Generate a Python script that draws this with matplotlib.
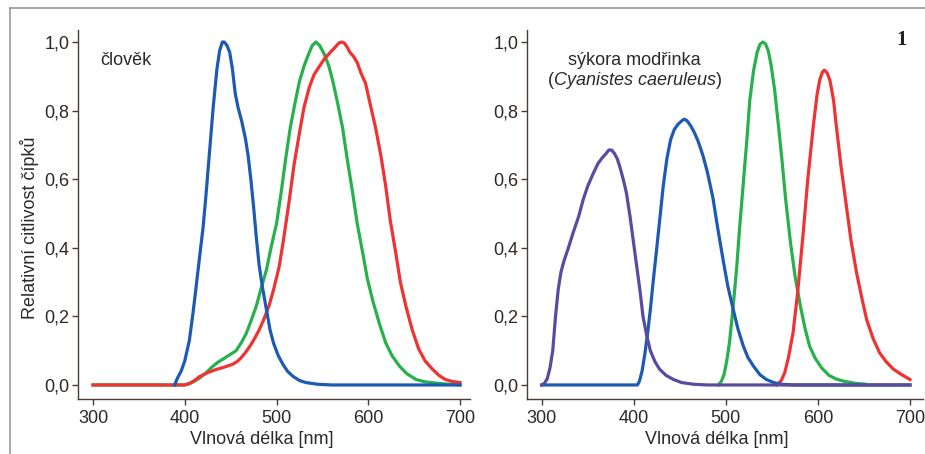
import matplotlib
matplotlib.use("Agg")
import matplotlib.pyplot as plt
from matplotlib.lines import Line2D

plt.rcParams['font.family'] = ['Liberation Sans', 'DejaVu Sans']

# cone sensitivity curves
# left panel - human (clovek)
human_blue_nm = [389, 392, 396, 400, 405, 409, 413, 416, 420, 423, 427, 431, 435, 438, 441, 443, 446, 449,
                 452, 455, 458, 462, 466, 469, 472, 475, 478, 481, 485, 489, 493, 497, 502, 507, 512, 518,
                 525, 532, 545, 560, 700]
human_blue = [0.0, 0.02, 0.04, 0.07, 0.13, 0.21, 0.30, 0.37, 0.46, 0.55, 0.68, 0.81, 0.92, 0.975, 1.0, 1.0, 0.99, 0.97,
              0.92, 0.85, 0.81, 0.77, 0.72, 0.67, 0.60, 0.52, 0.43, 0.35, 0.28, 0.22, 0.16, 0.12, 0.085, 0.06, 0.04, 0.025,
              0.013, 0.007, 0.002, 0.0, 0.0]

human_green_nm = [300, 400, 405, 410, 416, 423, 430, 436, 442, 449, 456, 462, 467, 472, 478, 483, 489, 494, 500,
                  505, 510, 515, 520, 525, 530, 535, 539, 543, 547, 552, 557, 561, 566, 572, 577, 583, 588, 594,
                  599, 605, 612, 619, 626, 634, 642, 652, 662, 675, 688, 700]
human_green = [0.0, 0.0, 0.004, 0.01, 0.02, 0.035, 0.053, 0.066, 0.076, 0.088, 0.10, 0.125, 0.15, 0.185, 0.23, 0.28, 0.335, 0.40, 0.47,
               0.56, 0.66, 0.75, 0.82, 0.885, 0.93, 0.965, 0.99, 1.0, 0.99, 0.965, 0.93, 0.89, 0.83, 0.75, 0.66, 0.56, 0.47, 0.385,
               0.31, 0.245, 0.18, 0.123, 0.085, 0.055, 0.033, 0.016, 0.009, 0.005, 0.002, 0.0]

human_red_nm = [300, 400, 405, 410, 416, 425, 434, 443, 452, 457, 461, 466, 471, 476, 481, 486, 492, 497, 503,
                508, 514, 519, 525, 530, 536, 541, 547, 552, 558, 564, 568, 571, 574, 577, 580, 584, 588, 592,
                597, 602, 608, 614, 619, 624, 630, 635, 641, 648, 655, 662, 670, 677, 684, 692, 700]
human_red = [0.0, 0.0, 0.004, 0.012, 0.024, 0.036, 0.045, 0.052, 0.06, 0.068, 0.078, 0.094, 0.113, 0.135, 0.16, 0.19, 0.232, 0.28, 0.346,
             0.43, 0.54, 0.64, 0.735, 0.81, 0.87, 0.905, 0.93, 0.95, 0.968, 0.985, 0.997, 1.0, 0.997, 0.985, 0.97, 0.958, 0.94, 0.91,
             0.88, 0.82, 0.75, 0.665, 0.58, 0.48, 0.385, 0.30, 0.23, 0.16, 0.105, 0.07, 0.046, 0.028, 0.016, 0.01, 0.007]

# right panel - blue tit (sykora modrinka)
tit_uv_nm = [300, 303, 306, 309, 312, 315, 318, 321, 324, 329, 334, 340, 345, 350, 356, 361, 365, 369, 373, 376,
             379, 382, 385, 389, 392, 396, 399, 403, 407, 410, 414, 418, 423, 428, 435, 443, 452, 465, 480, 700]
tit_uv = [0.0, 0.005, 0.018, 0.05, 0.10, 0.20, 0.28, 0.33, 0.36, 0.40, 0.443, 0.49, 0.54, 0.58, 0.617, 0.645, 0.66, 0.672, 0.685, 0.685,
          0.675, 0.66, 0.635, 0.595, 0.56, 0.49, 0.43, 0.35, 0.27, 0.20, 0.145, 0.10, 0.068, 0.046, 0.028, 0.016, 0.007, 0.002, 0.0, 0.0]

tit_blue_nm = [300, 404, 406, 409, 412, 415, 418, 421, 425, 428.5, 432, 436, 440, 444, 448, 452, 455, 458, 462, 466,
               470, 475, 480, 486, 491, 497, 502, 508, 513, 519, 524, 530, 537, 544, 552, 560, 575, 700]
tit_blue = [0.0, 0.0, 0.01, 0.04, 0.09, 0.15, 0.22, 0.30, 0.40, 0.49, 0.58, 0.66, 0.715, 0.745, 0.76, 0.77, 0.775, 0.77, 0.755, 0.735,
            0.71, 0.67, 0.62, 0.545, 0.46, 0.365, 0.29, 0.22, 0.165, 0.113, 0.08, 0.055, 0.03, 0.016, 0.007, 0.002, 0.0, 0.0]

tit_green_nm = [492, 495, 498, 501, 504, 508, 512, 515, 519, 523, 526, 530, 534, 537, 540, 543, 546, 549, 553, 557,
                561, 565, 570, 575, 581, 586, 591, 597, 604, 612, 620, 628, 640, 652]
tit_green = [0.0, 0.01, 0.03, 0.07, 0.125, 0.23, 0.35, 0.46, 0.59, 0.72, 0.83, 0.915, 0.97, 0.993, 1.0, 0.995, 0.975, 0.935, 0.86, 0.76,
             0.655, 0.54, 0.42, 0.32, 0.23, 0.165, 0.113, 0.078, 0.05, 0.028, 0.017, 0.011, 0.005, 0.002]

tit_red_nm = [555, 560, 564, 568, 573, 578, 584, 589, 595, 599, 602, 605, 607, 610, 613, 617, 620, 625, 631, 636,
              642, 648, 653, 660, 667, 674, 682, 691, 700]
tit_red = [0.0, 0.012, 0.036, 0.08, 0.152, 0.27, 0.443, 0.60, 0.755, 0.845, 0.89, 0.913, 0.918, 0.91, 0.889, 0.83, 0.755, 0.64, 0.52, 0.42,
           0.327, 0.25, 0.19, 0.135, 0.094, 0.068, 0.046, 0.03, 0.016]

x_ticks = [300, 400, 500, 600, 700]
y_ticks = [0.0, 0.2, 0.4, 0.6, 0.8, 1.0]
y_ticklabels = ["0,0", "0,2", "0,4", "0,6", "0,8", "1,0"]

BLUE = "#1d5ab4"
GREEN = "#27b14c"
RED = "#ef3232"
PURPLE = "#5b4b9f"
SPINE = "#4a3c34"
lw = 2.3

fig = plt.figure(figsize=(9.25, 4.54), dpi=100)
ax1 = fig.add_axes([0.0843, 0.1211, 0.4238, 0.8128])
ax2 = fig.add_axes([0.5697, 0.1211, 0.4281, 0.8128])

ax1.plot(human_green_nm, human_green, color=GREEN, lw=lw)
ax1.plot(human_red_nm, human_red, color=RED, lw=lw)
ax1.plot(human_blue_nm, human_blue, color=BLUE, lw=lw)

ax2.plot(tit_green_nm, tit_green, color=GREEN, lw=lw)
ax2.plot(tit_red_nm, tit_red, color=RED, lw=lw)
ax2.plot(tit_blue_nm, tit_blue, color=BLUE, lw=lw)
ax2.plot(tit_uv_nm, tit_uv, color=PURPLE, lw=lw)

ax1.set_xlim(283.6, 710.9)
ax2.set_xlim(284.0, 714.1)

for ax in [ax1, ax2]:
    ax.set_ylim(-0.041, 1.035)
    ax.set_xticks(x_ticks)
    ax.set_yticks(y_ticks)
    ax.set_yticklabels(y_ticklabels)
    ax.spines['top'].set_visible(False)
    ax.spines['right'].set_visible(False)
    for s in ['left', 'bottom']:
        ax.spines[s].set_color(SPINE)
        ax.spines[s].set_linewidth(1.0)
    ax.tick_params(direction='out', length=4, width=1.0, color=SPINE, labelsize=13,
                   labelcolor="#2a2a2a")
    ax.tick_params(axis='x', pad=4)
    ax.tick_params(axis='y', pad=2)
    ax.patch.set_alpha(0)

# labels
fig.text(0.032, 0.498, "Relativní citlivost čípků", rotation=90, ha='center', va='center',
         fontsize=13, color="#2a2a2a")
fig.text(262 / 925, 1 - 440 / 454, "Vlnová délka [nm]", ha='center', va='center', fontsize=13, color="#2a2a2a")
fig.text(717 / 925, 1 - 440 / 454, "Vlnová délka [nm]", ha='center', va='center', fontsize=13, color="#2a2a2a")

ax1.text(307.5, 0.947, "člověk", ha='left', va='center', fontsize=13, color="#2a2a2a")
ax2.text(401, 0.947, "sýkora modřinka", ha='center', va='center', fontsize=13, color="#2a2a2a")
# second line: (Cyanistes caeruleus) with italic species name
t_mid = ax2.text(401, 0.889, "Cyanistes caeruleus", ha='center', va='center', fontsize=13,
                 style='italic', color="#2a2a2a")
ax2.annotate("(", xy=(0, 0.5), xycoords=t_mid, ha='right', va='center', fontsize=13, color="#2a2a2a")
ax2.annotate(")", xy=(1, 0.5), xycoords=t_mid, ha='left', va='center', fontsize=13, color="#2a2a2a")

fig.text(0.975, 0.912, "1", ha='center', va='center', fontsize=15, fontweight='bold',
         family=['Liberation Serif', 'DejaVu Serif'], color="#222222")

# grey frame at top and left
fig.add_artist(Line2D([10 / 925, 1], [1 - 8 / 454, 1 - 8 / 454], transform=fig.transFigure,
                      color="#9a9a9a", lw=1.2))
fig.add_artist(Line2D([10 / 925, 10 / 925], [0, 1 - 8 / 454], transform=fig.transFigure,
                      color="#9a9a9a", lw=1.2))

fig.savefig("out.png", dpi=100)
